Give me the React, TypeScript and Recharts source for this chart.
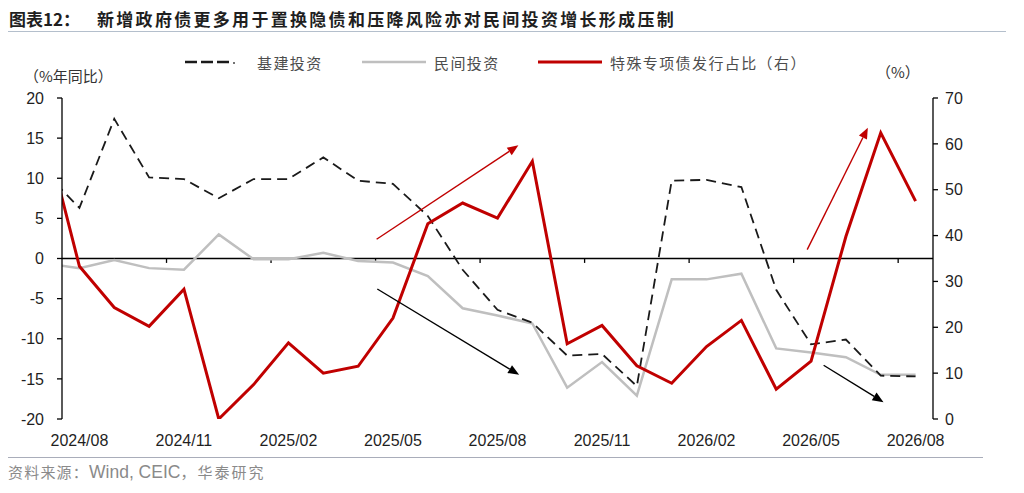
import React from "react";
import { LineChart, Line, XAxis, YAxis, ReferenceLine } from "recharts";

// Monthly categories (first one sits just left of the plot and is clipped)
const months = [
  "2024/07", "2024/08", "2024/09", "2024/10", "2024/11", "2024/12",
  "2025/01", "2025/02", "2025/03", "2025/04", "2025/05", "2025/06",
  "2025/07", "2025/08", "2025/09", "2025/10", "2025/11", "2025/12",
  "2026/01", "2026/02", "2026/03", "2026/04", "2026/05", "2026/06",
  "2026/07", "2026/08",
];

// 基建投资 (%年同比, left axis)
const infra = [
  10.8, 6.3, 17.4, 10.1, 9.9, 7.5, 9.9, 9.9, 12.6, 9.7, 9.3, 5.3, -1.4,
  -6.4, -8.0, -12.1, -11.9, -15.9, 9.7, 9.8, 8.9, -3.9, -10.7, -10.1, -14.6, -14.7,
];

// 民间投资 (%年同比, left axis)
const privateInv = [
  -0.6, -1.2, -0.2, -1.2, -1.4, 3.0, -0.1, -0.1, 0.7, -0.3, -0.5, -2.2, -6.2,
  -7.1, -8.1, -16.1, -12.9, -17.1, -2.6, -2.6, -1.9, -11.2, -11.7, -12.3, -14.5, -14.5,
];

// 特殊专项债发行占比 (%, right axis)
const special = [
  63.1, 33.3, 24.3, 20.2, 28.3, 0.0, 7.5, 16.6, 10.0, 11.5, 22.0, 42.6, 47.1,
  43.8, 56.2, 16.4, 20.4, 11.6, 7.8, 15.8, 21.5, 6.5, 12.6, 39.8, 62.4, 47.5,
];

const xLabelTicks = [0, 3, 6, 9, 12, 15, 18, 21, 24];
const xBoundaryTicks = [2.5, 5.5, 8.5, 11.5, 14.5, 17.5, 20.5, 23.5];
const leftTicks = [-20, -15, -10, -5, 0, 5, 10, 15, 20];
const rightTicks = [0, 10, 20, 30, 40, 50, 60, 70];

// Trend arrows (in data coordinates: x index, left-axis value)
const arrows = [
  { color: "#C00000", from: [8.53, 2.4], to: [12.6, 14.1] },
  { color: "#000000", from: [8.55, -3.8], to: [12.62, -14.5] },
  { color: "#C00000", from: [20.89, 1.1], to: [22.63, 16.3] },
  { color: "#000000", from: [21.36, -13.3], to: [23.08, -17.9] },
];

const data = months.map((m, i) => ({
  k: i - 1,
  month: m,
  infra: infra[i],
  privateInv: privateInv[i],
  special: special[i],
}));

const series = [
  { key: "infra", name: "基建投资", color: "#1a1a1a", width: 1.8, dash: "10 6", axis: "left" },
  { key: "privateInv", name: "民间投资", color: "#BFBFBF", width: 2.5, dash: undefined, axis: "left" },
  { key: "special", name: "特殊专项债发行占比（右）", color: "#C00000", width: 3, dash: undefined, axis: "right" },
];

const CJK = '"Noto Sans CJK SC", "Noto Sans", sans-serif';
const LATIN = '"Liberation Sans", Arial, sans-serif';

const ArrowShape = (props: any) => {
  const { x1, y1, x2, y2, stroke } = props;
  if ([x1, y1, x2, y2].some((v) => typeof v !== "number" || isNaN(v))) return null;
  const dx = x2 - x1;
  const dy = y2 - y1;
  const len = Math.sqrt(dx * dx + dy * dy) || 1;
  const ux = dx / len;
  const uy = dy / len;
  const head = 11;
  const half = 4.5;
  const bx = x2 - ux * head;
  const by = y2 - uy * head;
  const p1 = `${x2},${y2}`;
  const p2 = `${bx - uy * half},${by + ux * half}`;
  const p3 = `${bx + uy * half},${by - ux * half}`;
  return (
    <g>
      <line x1={x1} y1={y1} x2={bx} y2={by} stroke={stroke} strokeWidth={1.4} />
      <polygon points={`${p1} ${p2} ${p3}`} fill={stroke} />
    </g>
  );
};

const legendX = [185, 362, 538];

export default function App() {
  return (
    <div
      style={{
        position: "absolute",
        left: 0,
        top: 0,
        width: 1024,
        height: 493,
        background: "#fff",
        overflow: "hidden",
      }}
    >
      {/* Title */}
      <div
        style={{
          position: "absolute",
          left: 9,
          top: 7,
          fontFamily: CJK,
          fontWeight: 700,
          fontSize: 17,
          color: "#1f1f1f",
          whiteSpace: "nowrap",
          lineHeight: "24px",
        }}
      >
        图表12：
      </div>
      <div
        style={{
          position: "absolute",
          left: 97,
          top: 7,
          fontFamily: CJK,
          fontWeight: 700,
          fontSize: 17,
          letterSpacing: 2.3,
          color: "#1f1f1f",
          whiteSpace: "nowrap",
          lineHeight: "24px",
        }}
      >
        新增政府债更多用于置换隐债和压降风险亦对民间投资增长形成压制
      </div>
      <div
        style={{
          position: "absolute",
          left: 8,
          top: 31,
          width: 998,
          height: 0,
          borderTop: "1px solid #B4BFCC",
        }}
      />

      {/* Legend */}
      {series.map((s, i) => (
        <div
          key={s.key}
          style={{
            position: "absolute",
            left: legendX[i],
            top: 51,
            height: 22,
            display: "flex",
            alignItems: "center",
            whiteSpace: "nowrap",
          }}
        >
          <svg width={66} height={10} style={{ display: "block" }}>
            <line
              x1={0}
              y1={5}
              x2={i === 0 ? 44 : 64}
              y2={5}
              stroke={s.color}
              strokeWidth={i === 0 ? 2.4 : s.width}
              strokeDasharray={i === 0 ? "12 4" : undefined}
            />
            {i === 0 && <circle cx={49} cy={6} r={1} fill="#444" />}
          </svg>
          <span
            style={{
              marginLeft: 6,
              fontFamily: CJK,
              fontSize: 15,
              letterSpacing: 1.4,
              color: "#4d4d4d",
            }}
          >
            {s.name}
          </span>
        </div>
      ))}

      {/* Axis unit labels */}
      <div
        style={{
          position: "absolute",
          left: 24,
          top: 65,
          fontFamily: CJK,
          fontSize: 15,
          color: "#333",
          whiteSpace: "nowrap",
          lineHeight: "22px",
        }}
      >
        （%年同比）
      </div>
      <div
        style={{
          position: "absolute",
          left: 876,
          top: 61,
          fontFamily: CJK,
          fontSize: 15,
          color: "#333",
          whiteSpace: "nowrap",
          lineHeight: "22px",
        }}
      >
        （%）
      </div>

      <LineChart
        width={1024}
        height={493}
        data={data}
        margin={{ top: 98, right: 51, bottom: 44, left: 22 }}
        style={{ position: "absolute", left: 0, top: 0 }}
      >
        <XAxis
          dataKey="k"
          type="number"
          domain={[-0.5, 24.5]}
          allowDataOverflow
          ticks={xLabelTicks}
          interval={0}
          tickFormatter={(v: number) => months[v + 1]}
          axisLine={false}
          tickLine={false}
          tickMargin={10}
          height={30}
          tick={{ fill: "#1f1f1f", fontSize: 16, fontFamily: LATIN }}
        />
        <YAxis
          yAxisId="left"
          domain={[-20, 20]}
          ticks={leftTicks}
          interval={0}
          allowDataOverflow
          width={40}
          axisLine={{ stroke: "#000", strokeWidth: 1.3 }}
          tickLine={{ stroke: "#000", strokeWidth: 1.3 }}
          tickSize={5}
          tickMargin={13}
          tick={{ fill: "#1f1f1f", fontSize: 16, fontFamily: LATIN }}
        />
        <YAxis
          yAxisId="right"
          orientation="right"
          domain={[0, 70]}
          ticks={rightTicks}
          interval={0}
          allowDataOverflow
          width={40}
          axisLine={{ stroke: "#000", strokeWidth: 1.3 }}
          tickLine={{ stroke: "#000", strokeWidth: 1.3 }}
          tickSize={5}
          tickMargin={7}
          tick={{ fill: "#1f1f1f", fontSize: 16, fontFamily: LATIN }}
        />
        <ReferenceLine yAxisId="left" y={0} stroke="#000" strokeWidth={1.5} />
        {xBoundaryTicks.map((b) => (
          <ReferenceLine
            key={"t" + b}
            yAxisId="left"
            segment={[
              { x: b, y: 0 },
              { x: b, y: -0.55 },
            ]}
            stroke="#000"
            strokeWidth={1.3}
          />
        ))}
        <Line
          yAxisId="left"
          dataKey="privateInv"
          type="linear"
          stroke="#BFBFBF"
          strokeWidth={2.5}
          dot={false}
          isAnimationActive={false}
        />
        <Line
          yAxisId="left"
          dataKey="infra"
          type="linear"
          stroke="#1a1a1a"
          strokeWidth={1.8}
          strokeDasharray="10 6"
          dot={false}
          isAnimationActive={false}
        />
        <Line
          yAxisId="right"
          dataKey="special"
          type="linear"
          stroke="#C00000"
          strokeWidth={3}
          dot={false}
          isAnimationActive={false}
        />
        {arrows.map((a, i) => (
          <ReferenceLine
            key={"a" + i}
            yAxisId="left"
            segment={[
              { x: a.from[0], y: a.from[1] },
              { x: a.to[0], y: a.to[1] },
            ]}
            stroke={a.color}
            shape={<ArrowShape />}
          />
        ))}
      </LineChart>

      {/* Source */}
      <div
        style={{
          position: "absolute",
          left: 8,
          top: 457,
          width: 975,
          height: 0,
          borderTop: "1px solid #A9ADBA",
        }}
      />
      <div
        style={{
          position: "absolute",
          left: 8,
          top: 461,
          whiteSpace: "nowrap",
          color: "#8a8a8a",
          lineHeight: "22px",
        }}
      >
        <span style={{ fontFamily: CJK, fontSize: 15, letterSpacing: 1.2 }}>资料来源：</span>
        <span style={{ fontFamily: LATIN, fontSize: 17.5 }}>Wind, CEIC</span>
        <span style={{ fontFamily: CJK, fontSize: 15, letterSpacing: 2 }}>，华泰研究</span>
      </div>
    </div>
  );
}
